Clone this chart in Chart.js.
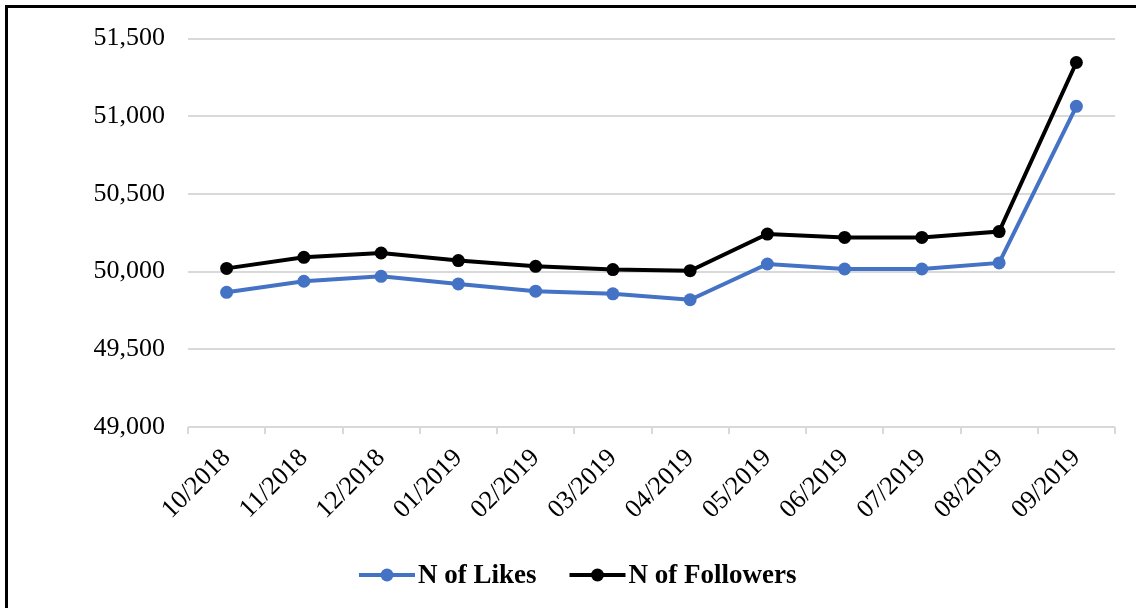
<!DOCTYPE html>
<html>
<head>
<meta charset="utf-8">
<script src="https://cdn.jsdelivr.net/npm/chart.js@4"></script>
<style>
  html, body { margin: 0; padding: 0; background: #fff; }
  #wrap { position: relative; width: 1136px; height: 608px; overflow: hidden; }
  #frame {
    position: absolute; left: 5px; top: 5px; width: 1140px; height: 610px;
    border-left: 3px solid #000; border-top: 3px solid #000; pointer-events: none;
  }
  canvas { position: absolute; left: 0; top: 0; }
</style>
</head>
<body>
<div id="wrap">
  <canvas id="c" width="1136" height="608"></canvas>
  <div id="frame"></div>
</div>
<script>
// Monthly counts, October 2018 to September 2019
const months = ['10/2018', '11/2018', '12/2018', '01/2019', '02/2019', '03/2019',
                '04/2019', '05/2019', '06/2019', '07/2019', '08/2019', '09/2019'];
const likes = [49867, 49938, 49970, 49921, 49874, 49857, 49819, 50049, 50017, 50017, 50056, 51064];
const followers = [50021, 50092, 50120, 50071, 50034, 50013, 50006, 50242, 50220, 50220, 50258, 51346];
const yTicks = [49000, 49500, 50000, 50500, 51000, 51500];

const FONT = "'Liberation Serif', 'Times New Roman', serif";

// Legend: line segment with a dot, then bold label
const lineLegend = {
  id: 'lineLegend',
  afterDraw(chart) {
    const ctx = chart.ctx;
    const y = 575;
    const segW = 56, gapText = 3, gapItems = 33;
    ctx.save();
    ctx.font = 'bold 27px ' + FONT;
    const items = chart.data.datasets.map(ds => ({
      label: ds.label, color: ds.borderColor, w: ctx.measureText(ds.label).width
    }));
    const total = items.reduce((s, it) => s + segW + gapText + it.w, 0) + gapItems * (items.length - 1);
    let x = Math.round(chart.width / 2 - total / 2) + 10;
    items.forEach(it => {
      ctx.strokeStyle = it.color;
      ctx.lineWidth = 4;
      ctx.beginPath();
      ctx.moveTo(x, y);
      ctx.lineTo(x + segW, y);
      ctx.stroke();
      ctx.fillStyle = it.color;
      ctx.beginPath();
      ctx.arc(x + segW / 2, y, 6.5, 0, Math.PI * 2);
      ctx.fill();
      ctx.fillStyle = '#000';
      ctx.textAlign = 'left';
      ctx.textBaseline = 'middle';
      ctx.fillText(it.label, x + segW + gapText, y + 1);
      x += segW + gapText + it.w + gapItems;
    });
    ctx.restore();
  }
};

new Chart(document.getElementById('c'), {
  type: 'line',
  data: {
    labels: months,
    datasets: [
      {
        label: 'N of Likes',
        data: likes,
        borderColor: '#4472C4',
        backgroundColor: '#4472C4',
        borderWidth: 4,
        pointRadius: 6.5,
        pointBorderWidth: 0,
        tension: 0
      },
      {
        label: 'N of Followers',
        data: followers,
        borderColor: '#000000',
        backgroundColor: '#000000',
        borderWidth: 4,
        pointRadius: 6.5,
        pointBorderWidth: 0,
        tension: 0
      }
    ]
  },
  options: {
    responsive: false,
    animation: false,
    events: [],
    layout: { padding: { top: 37, right: 21, left: 0, bottom: 0 } },
    plugins: {
      legend: { display: false },
      tooltip: { enabled: false }
    },
    scales: {
      x: {
        offset: true,
        afterFit(scale) { scale.height = 181; },
        border: { display: false },
        grid: {
          offset: true,
          drawOnChartArea: false,
          drawTicks: true,
          tickLength: 7,
          color: '#d9d9d9',
          lineWidth: 2
        },
        ticks: {
          minRotation: 45,
          maxRotation: 45,
          padding: 9,
          color: '#000',
          font: { family: FONT, size: 26 }
        }
      },
      y: {
        min: yTicks[0],
        max: yTicks[yTicks.length - 1],
        afterFit(scale) { scale.width = 188; },
        afterBuildTicks(scale) { scale.ticks = yTicks.map(v => ({ value: v })); },
        border: { display: false },
        grid: {
          drawTicks: false,
          color: '#d9d9d9',
          lineWidth: 2
        },
        ticks: {
          padding: 23,
          color: '#000',
          font: { family: FONT, size: 26 },
          callback: v => v.toLocaleString('en-US')
        }
      }
    }
  },
  plugins: [lineLegend]
});
</script>
</body>
</html>
